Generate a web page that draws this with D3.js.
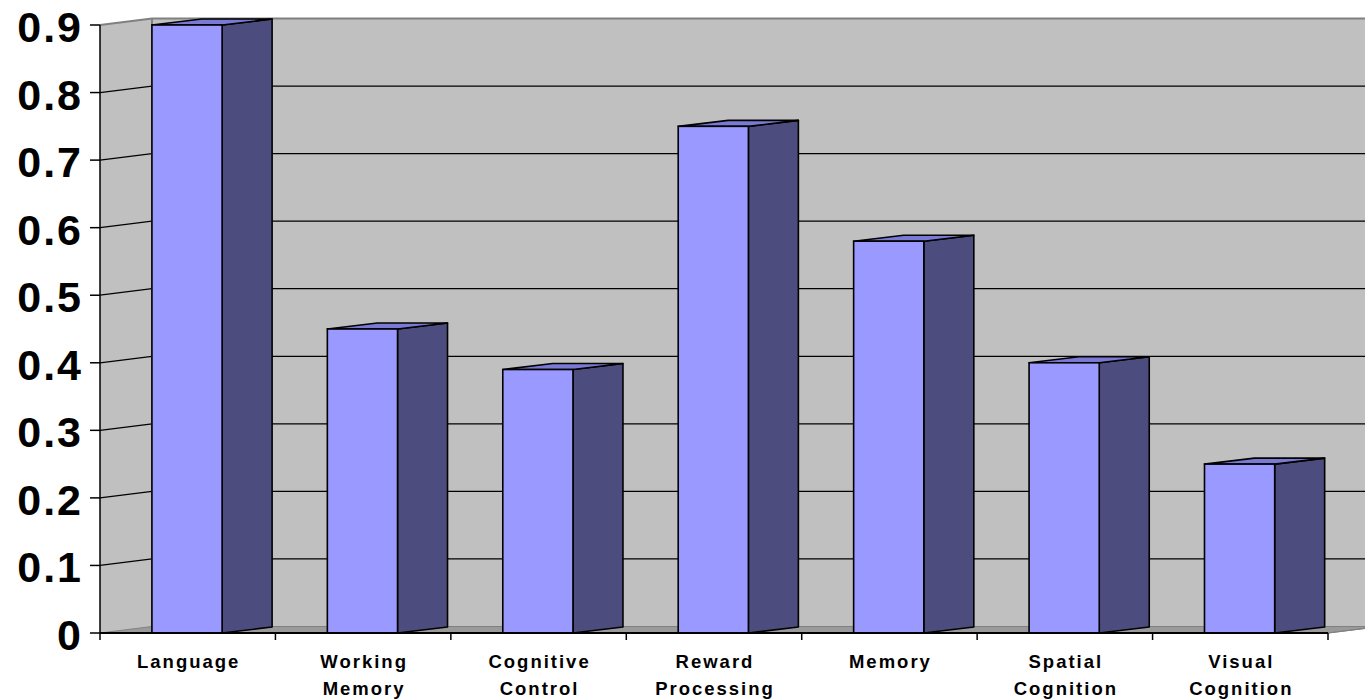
<!DOCTYPE html>
<html>
<head>
<meta charset="utf-8">
<script src="https://cdn.jsdelivr.net/npm/d3@7"></script>
<style>
  html, body { margin: 0; padding: 0; background: #fff; }
  svg { display: block; }
</style>
</head>
<body>
<svg id="chart" width="1365" height="699"></svg>
<script>
// Chart data
const categories = [
  ["Language"],
  ["Working", "Memory"],
  ["Cognitive", "Control"],
  ["Reward", "Processing"],
  ["Memory"],
  ["Spatial", "Cognition"],
  ["Visual", "Cognition"]
];
const values = [0.9, 0.45, 0.39, 0.75, 0.58, 0.40, 0.25];
const yTicks = [0, 0.1, 0.2, 0.3, 0.4, 0.5, 0.6, 0.7, 0.8, 0.9];
const yTickLabels = ["0", "0.1", "0.2", "0.3", "0.4", "0.5", "0.6", "0.7", "0.8", "0.9"];

const svg = d3.select("#chart");

// Layout of the 3D plot box
const plotLeft = 100, plotRight = 1328, plotBottom = 633, plotTop = 25;
const wallDx = 52, wallDy = -6.5;   // depth offset of the back wall
const barDx = 50, barDy = -6;       // depth offset of each column

const keys = categories.map(c => c.join(" "));
const x = d3.scaleBand().domain(keys).range([plotLeft, plotRight]).padding(0);
const y = d3.scaleLinear().domain([0, 0.9]).range([plotBottom, plotTop]);

const wallColor = "#c0c0c0";
const borderGray = "#808080";

// Back wall
svg.append("rect")
  .attr("x", plotLeft + wallDx).attr("y", y(0.9) + wallDy)
  .attr("width", 1400 - (plotLeft + wallDx)).attr("height", y(0) - y(0.9))
  .attr("fill", wallColor);

// Side wall
svg.append("polygon")
  .attr("points", [
    [plotLeft, y(0)], [plotLeft, y(0.9)],
    [plotLeft + wallDx, y(0.9) + wallDy], [plotLeft + wallDx, y(0) + wallDy]
  ].map(p => p.join(",")).join(" "))
  .attr("fill", wallColor);

// Floor
svg.append("polygon")
  .attr("points", [
    [plotLeft, y(0)], [plotLeft + wallDx, y(0) + wallDy],
    [plotRight + wallDx, y(0) + wallDy], [plotRight, y(0)]
  ].map(p => p.join(",")).join(" "))
  .attr("fill", "#9a9a9a").attr("stroke", borderGray).attr("stroke-width", 1);

// Gridlines: diagonal on the side wall, horizontal on the back wall
const grid = svg.append("g");
yTicks.filter(t => t > 0).forEach(t => {
  const col = t >= 0.9 ? borderGray : "#000";
  const sw = t >= 0.9 ? 2 : 1.3;
  grid.append("line")
    .attr("x1", plotLeft).attr("y1", y(t))
    .attr("x2", plotLeft + wallDx).attr("y2", y(t) + wallDy)
    .attr("stroke", col).attr("stroke-width", sw);
  grid.append("line")
    .attr("x1", plotLeft + wallDx).attr("y1", y(t) + wallDy)
    .attr("x2", 1400).attr("y2", y(t) + wallDy)
    .attr("stroke", col).attr("stroke-width", sw);
});

// Wall corner edge
svg.append("line")
  .attr("x1", plotLeft + wallDx).attr("y1", y(0.9) + wallDy)
  .attr("x2", plotLeft + wallDx).attr("y2", y(0) + wallDy)
  .attr("stroke", borderGray).attr("stroke-width", 2);

// Floor right edge
svg.append("line")
  .attr("x1", plotRight).attr("y1", y(0))
  .attr("x2", plotRight + wallDx).attr("y2", y(0) + wallDy)
  .attr("stroke", borderGray).attr("stroke-width", 1.2);

// Columns
const barOffset = x.bandwidth() * 0.296;
const barW = x.bandwidth() * 0.4;
const bars = svg.append("g")
  .selectAll("g").data(values).join("g");

bars.each(function(v, i) {
  const g = d3.select(this);
  const x0 = x(keys[i]) + barOffset, x1 = x0 + barW;
  const y0 = y(0), y1 = y(v);
  // side face
  g.append("polygon")
    .attr("points", [[x1, y0], [x1, y1], [x1 + barDx, y1 + barDy], [x1 + barDx, y0 + barDy]]
      .map(p => p.join(",")).join(" "))
    .attr("fill", "#4c4c7e").attr("stroke", "#000").attr("stroke-width", 1.6)
    .attr("stroke-linejoin", "round");
  // top face
  g.append("polygon")
    .attr("points", [[x0, y1], [x0 + barDx, y1 + barDy], [x1 + barDx, y1 + barDy], [x1, y1]]
      .map(p => p.join(",")).join(" "))
    .attr("fill", "#7a7ad6").attr("stroke", "#000").attr("stroke-width", 1.6)
    .attr("stroke-linejoin", "round");
  // front face
  g.append("rect")
    .attr("x", x0).attr("y", y1).attr("width", barW).attr("height", y0 - y1)
    .attr("fill", "#9999ff").attr("stroke", "#000").attr("stroke-width", 1.6);
});

// Value axis
const yAxis = svg.append("g");
yAxis.append("line")
  .attr("x1", plotLeft).attr("y1", y(0)).attr("x2", plotLeft).attr("y2", y(0.9))
  .attr("stroke", "#000").attr("stroke-width", 1.5);
yTicks.forEach((t, i) => {
  yAxis.append("line")
    .attr("x1", plotLeft - 10).attr("y1", y(t)).attr("x2", plotLeft).attr("y2", y(t))
    .attr("stroke", "#000").attr("stroke-width", 1.5);
  yAxis.append("text")
    .attr("x", 83).attr("y", y(t) + 17)
    .attr("text-anchor", "end")
    .attr("font-family", "Liberation Sans, Arial, sans-serif")
    .attr("font-weight", "bold").attr("font-size", 43)
    .attr("letter-spacing", 2)
    .text(yTickLabels[i]);
});

// Category axis
const xAxis = svg.append("g");
xAxis.append("line")
  .attr("x1", plotLeft).attr("y1", y(0)).attr("x2", plotRight).attr("y2", y(0))
  .attr("stroke", "#000").attr("stroke-width", 2);
const bounds = keys.map(k => x(k)).concat([plotRight]);
bounds.forEach(bx => {
  xAxis.append("line")
    .attr("x1", bx).attr("y1", y(0)).attr("x2", bx).attr("y2", y(0) + 7)
    .attr("stroke", "#000").attr("stroke-width", 1.5);
});
categories.forEach((lines, i) => {
  const cx = x(keys[i]) + x.bandwidth() / 2 + 1;
  const t = xAxis.append("text")
    .attr("text-anchor", "middle")
    .attr("font-family", "Liberation Sans, Arial, sans-serif")
    .attr("font-weight", "bold").attr("font-size", 18.5)
    .attr("letter-spacing", 2);
  lines.forEach((ln, j) => {
    t.append("tspan").attr("x", cx).attr("y", 668 + j * 27).text(ln);
  });
});
</script>
</body>
</html>
